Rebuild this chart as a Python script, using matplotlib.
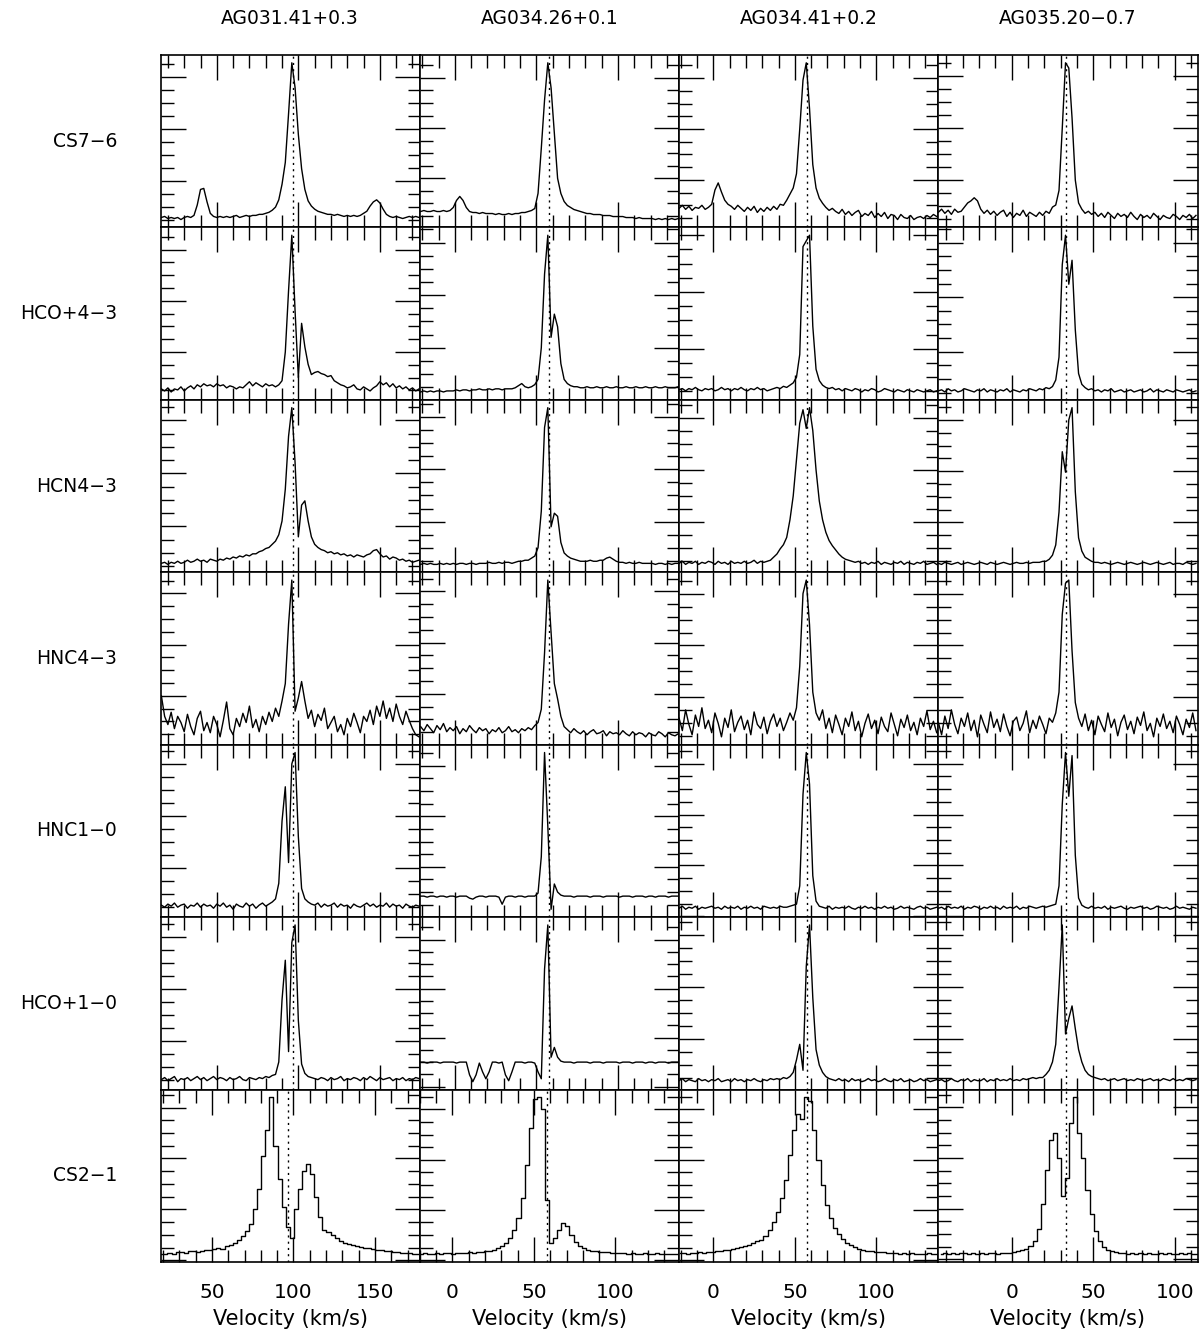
import numpy as np
import matplotlib.pyplot as plt
from matplotlib.ticker import MultipleLocator

# Spectra grid: 7 lines (rows) x 4 sources (columns)
sources = ['AG031.41+0.3', 'AG034.26+0.1', 'AG034.41+0.2', 'AG035.20\u22120.7']
lines = ['CS7\u22126', 'HCO+4\u22123', 'HCN4\u22123', 'HNC4\u22123',
         'HNC1\u22120', 'HCO+1\u22120', 'CS2\u22121']
v_lsr = [96.8, 58.0, 57.5, 33.5]          # dotted line, km/s

# channel grids (first channel velocity, channel width) in km/s
v_start = [16, -21, -21, -45]
dv = 2.0
v_start_cs21 = [19, -19.5, -20.5, -43.5]
dv_cs21 = 2.5

# intensities, arbitrary units
cs76_ag031 = [15, 16, 14, 15, 14, 15, 13, 15, 16, 15,
              17, 27, 42, 43, 30, 19, 16, 15, 16, 15,
              16, 15, 16, 17, 15, 16, 17, 16, 17, 17,
              18, 18, 19, 20, 22, 25, 32, 47, 68, 115,
              164, 140, 95, 62, 42, 31, 26, 23, 21, 20,
              19, 18, 18, 17, 18, 17, 16, 17, 16, 17,
              16, 17, 19, 21, 26, 30, 32, 29, 23, 18,
              16, 15, 16, 15, 14, 15, 16, 15, 16, 15]
cs76_ag034a = [17, 18, 17, 17, 18, 17, 17, 18, 17, 18,
               21, 28, 32, 28, 21, 17, 16, 16, 15, 16,
               15, 15, 15, 14, 15, 14, 14, 15, 14, 15,
               15, 16, 16, 17, 18, 20, 35, 80, 128, 165,
               140, 95, 50, 35, 27, 23, 21, 19, 18, 17,
               16, 15, 15, 14, 14, 14, 13, 13, 13, 12,
               12, 12, 12, 11, 11, 11, 10, 11, 10, 10,
               10, 10, 9, 10, 9, 10, 9, 10, 9, 10]
cs76_ag034b = [22, 25, 21, 24, 20, 23, 22, 25, 21, 23,
               26, 40, 47, 38, 30, 26, 24, 21, 25, 22,
               19, 23, 20, 24, 18, 22, 19, 23, 20, 24,
               21, 26, 25, 30, 36, 42, 56, 100, 148, 165,
               120, 65, 42, 32, 27, 23, 20, 22, 19, 17,
               21, 16, 19, 15, 18, 20, 14, 17, 15, 19,
               13, 17, 14, 18, 12, 16, 15, 11, 16, 13,
               12, 15, 11, 13, 14, 12, 15, 13, 16, 14]
cs76_ag035 = [19, 22, 18, 21, 17, 22, 19, 20, 24, 28,
              30, 33, 30, 22, 18, 21, 17, 20, 16, 19,
              21, 15, 19, 14, 18, 16, 21, 15, 19, 17,
              15, 19, 16, 20, 18, 24, 26, 40, 100, 163,
              158, 110, 50, 28, 22, 18, 20, 17, 19, 15,
              18, 14, 19, 16, 13, 18, 15, 17, 14, 19,
              15, 12, 17, 14, 16, 13, 18, 15, 12, 16,
              14, 13, 17, 15, 12, 16, 14, 17, 13, 16]

hco43_ag031 = [14, 12, 15, 11, 14, 13, 16, 12, 15, 17,
               14, 18, 16, 19, 17, 18, 16, 19, 17, 18,
               15, 17, 16, 14, 16, 15, 18, 21, 17, 20,
               18, 16, 19, 17, 18, 16, 18, 22, 50, 110,
               164, 90, 25, 78, 55, 38, 28, 30, 31, 29,
               28, 26, 27, 22, 20, 18, 17, 15, 16, 18,
               14, 13, 16, 14, 12, 15, 17, 21, 18, 20,
               16, 19, 15, 17, 14, 16, 13, 15, 12, 14]
hco43_ag034a = [8, 9, 8, 9, 8, 9, 9, 8, 9, 9,
                9, 10, 9, 10, 10, 9, 10, 10, 11, 10,
                10, 11, 10, 11, 11, 10, 11, 11, 11, 12,
                14, 16, 13, 12, 13, 15, 20, 50, 120, 157,
                60, 82, 70, 35, 20, 16, 14, 13, 13, 12,
                12, 13, 12, 12, 13, 12, 12, 13, 12, 12,
                13, 12, 12, 13, 12, 12, 13, 12, 12, 13,
                12, 12, 13, 12, 12, 13, 12, 12, 12, 13]
hco43_ag034b = [14, 15, 13, 15, 14, 16, 14, 13, 15, 14,
                15, 13, 14, 16, 14, 15, 13, 15, 14, 16,
                14, 13, 15, 14, 16, 14, 15, 13, 14, 15,
                16, 15, 17, 16, 18, 20, 25, 45, 140, 145,
                150, 70, 32, 22, 18, 16, 15, 16, 14, 15,
                13, 15, 14, 13, 15, 14, 12, 14, 13, 15,
                14, 12, 13, 15, 14, 13, 12, 14, 13, 12,
                14, 13, 12, 14, 13, 12, 13, 14, 12, 13]
hco43_ag035 = [14, 15, 13, 16, 14, 15, 13, 14, 16, 15,
               14, 13, 15, 14, 16, 13, 15, 14, 13, 15,
               14, 16, 13, 15, 14, 13, 15, 14, 16, 15,
               14, 16, 15, 17, 16, 18, 24, 45, 130, 157,
               112, 134, 70, 30, 20, 17, 15, 16, 14, 15,
               13, 15, 14, 16, 13, 14, 15, 13, 14, 15,
               13, 14, 15, 13, 14, 16, 13, 15, 14, 13,
               15, 14, 13, 15, 14, 13, 14, 15, 13, 14]

hcn43_ag031 = [15, 16, 14, 16, 15, 17, 15, 16, 18, 16,
               17, 19, 17, 18, 16, 19, 18, 17, 19, 18,
               20, 19, 21, 20, 22, 21, 23, 22, 24, 24,
               26, 27, 29, 30, 33, 36, 42, 55, 85, 135,
               162, 110, 40, 70, 74, 55, 40, 33, 30, 28,
               27, 25, 26, 24, 25, 23, 24, 22, 23, 21,
               23, 22, 21, 23, 24, 27, 28, 24, 21, 22,
               19, 21, 20, 18, 19, 17, 18, 16, 17, 18]
hcn43_ag034a = [9, 10, 9, 10, 9, 9, 10, 9, 10, 9,
                10, 9, 10, 10, 9, 10, 10, 9, 10, 10,
                10, 11, 10, 10, 11, 10, 11, 11, 10, 11,
                12, 12, 13, 13, 15, 17, 25, 60, 140, 159,
                45, 58, 55, 30, 20, 17, 15, 14, 13, 12,
                12, 12, 13, 12, 12, 13, 13, 15, 16, 14,
                12, 11, 11, 10, 11, 10, 10, 11, 10, 10,
                10, 10, 9, 10, 10, 9, 10, 9, 10, 10]
hcn43_ag034b = [10, 12, 9, 11, 10, 12, 9, 11, 10, 12,
                11, 9, 12, 10, 11, 9, 12, 10, 11, 10,
                12, 10, 11, 13, 10, 12, 11, 12, 13, 16,
                19, 24, 28, 35, 52, 75, 110, 145, 158, 140,
                160, 138, 100, 70, 52, 40, 32, 27, 23, 19,
                16, 14, 13, 12, 11, 12, 10, 11, 9, 11,
                10, 12, 9, 11, 10, 9, 11, 10, 12, 9,
                11, 10, 9, 11, 10, 12, 9, 10, 11, 9]
hcn43_ag035 = [10, 9, 11, 10, 9, 10, 11, 9, 10, 11,
               10, 9, 10, 11, 10, 9, 11, 10, 9, 10,
               11, 10, 9, 10, 11, 10, 10, 11, 10, 11,
               11, 11, 12, 12, 14, 18, 28, 60, 119, 99,
               150, 162, 80, 35, 22, 16, 14, 12, 11, 11,
               10, 11, 10, 9, 10, 11, 10, 9, 10, 11,
               10, 9, 10, 11, 10, 9, 10, 11, 10, 9,
               10, 11, 9, 10, 10, 9, 11, 10, 9, 10]

hnc43_ag031 = [50, 30, 22, 34, 18, 30, 24, 15, 32, 20,
               12, 28, 35, 16, 24, 14, 30, 22, 10, 26,
               44, 18, 12, 28, 20, 33, 24, 40, 19, 27,
               15, 30, 22, 34, 25, 38, 30, 45, 62, 120,
               163, 35, 48, 64, 45, 28, 36, 20, 32, 26,
               38, 18, 24, 30, 15, 22, 12, 28, 20, 33,
               24, 14, 30, 25, 36, 22, 40, 30, 45, 28,
               38, 25, 42, 30, 22, 35, 26, 18, 12, 10]
hnc43_ag034a = [18, 14, 20, 16, 12, 19, 15, 21, 13, 17,
                14, 18, 11, 16, 13, 19, 15, 12, 17, 14,
                16, 11, 15, 13, 17, 12, 14, 18, 13, 15,
                12, 16, 14, 17, 15, 19, 22, 35, 90, 161,
                110, 60, 45, 28, 18, 15, 12, 16, 13, 11,
                14, 10, 13, 15, 11, 12, 14, 9, 13, 11,
                12, 10, 14, 11, 9, 13, 10, 12, 11, 8,
                12, 10, 9, 13, 11, 8, 12, 10, 9, 11]
hnc43_ag034b = [30, 18, 38, 24, 14, 33, 22, 40, 20, 28,
                16, 35, 25, 12, 30, 21, 38, 17, 26, 32,
                19, 28, 14, 36, 24, 20, 31, 15, 27, 34,
                22, 30, 18, 26, 35, 28, 40, 80, 150, 163,
                120, 55, 35, 28, 38, 20, 30, 16, 33, 24,
                14, 30, 22, 36, 18, 27, 12, 25, 34, 20,
                28, 15, 31, 22, 17, 35, 24, 13, 29, 21,
                33, 18, 26, 14, 30, 22, 37, 19, 27, 16]
hnc43_ag035 = [26, 14, 32, 20, 38, 24, 15, 30, 22, 35,
               18, 28, 12, 33, 24, 16, 36, 21, 29, 17,
               34, 22, 13, 27, 31, 18, 25, 37, 16, 28,
               20, 32, 24, 15, 30, 26, 35, 55, 130, 160,
               163, 95, 45, 30, 22, 34, 18, 28, 14, 32,
               24, 17, 35, 21, 29, 13, 26, 33, 19, 27,
               15, 31, 23, 36, 18, 25, 12, 30, 22, 34,
               20, 27, 16, 32, 24, 14, 29, 21, 35, 18]

hnc10_ag031 = [14, 12, 15, 13, 16, 12, 14, 15, 11, 14,
               13, 16, 12, 15, 13, 14, 11, 15, 13, 16,
               12, 14, 10, 15, 13, 12, 16, 13, 15, 11,
               14, 16, 13, 15, 17, 20, 35, 95, 128, 55,
               150, 161, 80, 30, 20, 17, 15, 14, 16, 12,
               15, 13, 14, 16, 12, 15, 13, 14, 11, 15,
               13, 12, 14, 16, 13, 15, 12, 14, 13, 16,
               12, 15, 13, 14, 11, 15, 13, 12, 14, 13]
hnc10_ag034a = [21, 21, 20, 21, 21, 20, 21, 21, 20, 21,
                21, 20, 21, 21, 21, 19, 18, 20, 21, 21,
                20, 21, 21, 21, 20, 13, 20, 21, 21, 20,
                21, 21, 20, 21, 21, 21, 24, 60, 163, 90,
                8, 33, 25, 22, 21, 21, 21, 20, 21, 21,
                21, 21, 20, 21, 21, 21, 20, 21, 21, 21,
                21, 20, 21, 21, 21, 20, 21, 21, 21, 20,
                21, 21, 20, 21, 21, 21, 20, 21, 21, 21]
hnc10_ag034b = [8, 10, 7, 9, 8, 10, 7, 9, 8, 9,
                10, 8, 9, 7, 10, 8, 9, 8, 10, 7,
                9, 8, 10, 8, 9, 7, 10, 9, 8, 9,
                8, 10, 9, 9, 10, 11, 12, 30, 120, 161,
                130, 40, 15, 10, 9, 8, 10, 7, 9, 8,
                9, 8, 10, 8, 7, 9, 8, 10, 8, 9,
                7, 9, 8, 10, 8, 9, 7, 8, 10, 8,
                9, 8, 7, 9, 10, 8, 9, 7, 8, 9]
hnc10_ag035 = [8, 9, 7, 10, 8, 9, 8, 10, 7, 9,
               8, 10, 9, 7, 9, 8, 10, 8, 9, 7,
               10, 8, 9, 8, 10, 7, 9, 8, 10, 9,
               8, 9, 10, 9, 10, 11, 12, 30, 110, 161,
               118, 158, 60, 18, 11, 9, 8, 10, 8, 9,
               8, 10, 7, 9, 8, 9, 10, 8, 7, 9,
               8, 9, 10, 8, 9, 7, 8, 10, 9, 8,
               9, 7, 8, 10, 8, 9, 8, 7, 9, 8]

hco10_ag031 = [13, 15, 12, 14, 16, 11, 14, 13, 15, 12,
               14, 16, 13, 15, 12, 14, 16, 13, 15, 14,
               12, 15, 13, 14, 16, 13, 12, 15, 14, 13,
               15, 14, 16, 15, 17, 18, 30, 90, 128, 40,
               145, 162, 70, 28, 19, 16, 15, 14, 13, 15,
               14, 12, 15, 13, 14, 16, 12, 14, 13, 15,
               14, 12, 15, 13, 16, 14, 12, 15, 13, 14,
               15, 12, 14, 13, 15, 12, 14, 13, 15, 14]
hco10_ag034a = [25, 25, 24, 25, 25, 25, 24, 25, 25, 25,
                25, 24, 25, 25, 25, 12, 5, 12, 24, 15,
                8, 15, 25, 25, 24, 25, 12, 6, 15, 25,
                25, 25, 24, 25, 25, 24, 15, 8, 120, 165,
                30, 40, 30, 26, 25, 25, 25, 24, 25, 25,
                25, 25, 24, 25, 25, 25, 24, 25, 25, 25,
                25, 24, 25, 25, 25, 24, 25, 25, 25, 24,
                25, 25, 24, 25, 25, 25, 24, 25, 25, 25]
hco10_ag034b = [10, 12, 9, 11, 10, 9, 12, 10, 11, 9,
                11, 10, 12, 9, 10, 11, 9, 12, 10, 11,
                9, 11, 10, 12, 10, 9, 11, 10, 12, 11,
                12, 11, 13, 12, 14, 18, 30, 45, 20, 120,
                160, 90, 40, 25, 18, 14, 12, 11, 10, 12,
                10, 11, 9, 12, 10, 11, 9, 10, 12, 10,
                11, 9, 10, 12, 10, 9, 11, 10, 12, 9,
                10, 11, 9, 10, 12, 10, 11, 9, 10, 11]
hco10_ag035 = [10, 11, 9, 10, 12, 10, 9, 11, 10, 12,
               9, 11, 10, 10, 12, 9, 11, 10, 12, 10,
               11, 10, 12, 10, 11, 10, 12, 11, 12, 13,
               12, 13, 13, 16, 20, 28, 45, 100, 160, 55,
               70, 82, 60, 40, 28, 20, 16, 14, 13, 12,
               11, 12, 10, 11, 12, 10, 11, 12, 10, 11,
               10, 12, 11, 10, 11, 12, 10, 11, 10, 12,
               11, 10, 12, 10, 11, 10, 12, 11, 10, 11]

cs21_ag031 = [6, 6, 7, 6, 8, 8, 7, 9, 9, 8,
              9, 10, 10, 11, 12, 11, 14, 15, 17, 20,
              24, 29, 36, 50, 70, 102, 128, 160, 112, 80,
              52, 33, 22, 50, 70, 88, 95, 85, 62, 42,
              30, 28, 25, 22, 19, 17, 16, 15, 14, 13,
              12, 12, 11, 10, 10, 9, 9, 8, 8, 7,
              7, 7, 6, 6]
cs21_ag034a = [6, 7, 6, 6, 7, 6, 7, 7, 6, 7,
               7, 7, 8, 7, 8, 8, 9, 9, 10, 12,
               14, 17, 22, 30, 42, 62, 95, 132, 160, 162,
               150, 60, 17, 22, 30, 37, 34, 25, 18, 14,
               12, 10, 9, 9, 8, 8, 8, 7, 7, 7,
               7, 6, 7, 6, 6, 7, 6, 6, 7, 6,
               6, 6, 6, 6]
cs21_ag034b = [7, 7, 6, 7, 7, 8, 7, 8, 8, 9,
               9, 10, 10, 11, 12, 13, 14, 15, 17, 19,
               20, 24, 30, 38, 48, 62, 80, 105, 130, 145,
               140, 162, 158, 130, 100, 75, 55, 42, 32, 26,
               21, 17, 15, 13, 11, 10, 9, 9, 8, 8,
               8, 7, 7, 7, 6, 7, 6, 7, 6, 6,
               6, 7, 6, 6]
cs21_ag035 = [5, 6, 5, 6, 5, 6, 6, 5, 6, 5,
              6, 5, 6, 6, 5, 6, 6, 6, 7, 8,
              9, 10, 13, 18, 30, 55, 88, 118, 125, 100,
              62, 80, 135, 160, 125, 100, 68, 45, 28, 18,
              12, 9, 8, 7, 6, 6, 5, 6, 5, 6,
              5, 6, 5, 5, 6, 5, 6, 5, 5, 6,
              5, 6, 5, 5]

spectra = [
    [cs76_ag031, cs76_ag034a, cs76_ag034b, cs76_ag035],
    [hco43_ag031, hco43_ag034a, hco43_ag034b, hco43_ag035],
    [hcn43_ag031, hcn43_ag034a, hcn43_ag034b, hcn43_ag035],
    [hnc43_ag031, hnc43_ag034a, hnc43_ag034b, hnc43_ag035],
    [hnc10_ag031, hnc10_ag034a, hnc10_ag034b, hnc10_ag035],
    [hco10_ag031, hco10_ag034a, hco10_ag034b, hco10_ag035],
    [cs21_ag031, cs21_ag034a, cs21_ag034b, cs21_ag035],
]

# velocity windows (left edge) and common width
x_left = [15.5, -21.5, -21, -45]
x_left_cs21 = [18.5, -20, -21, -45]
x_width = 159

fig, axes = plt.subplots(7, 4, figsize=(12, 13.34), dpi=100)
fig.subplots_adjust(left=0.1338, right=0.998, top=0.9588, bottom=0.054,
                    hspace=0, wspace=0)

for r in range(7):
    for c in range(4):
        ax = axes[r, c]
        t = np.array(spectra[r][c])
        if r == 6:
            # CS 2-1 has coarse channels -> histogram
            v = v_start_cs21[c] + dv_cs21 * np.arange(len(t))
            lo = x_left_cs21[c]
            ax.plot(v, t, drawstyle='steps-mid', color='k', lw=1.0)
        else:
            v = v_start[c] + dv * np.arange(len(t))
            lo = x_left[c]
            ax.plot(v, t, color='k', lw=1.0)
        ax.axvline(v_lsr[c], color='k', lw=1.0, ls=(0, (1.5, 3)))
        ax.set_xlim(lo, lo + x_width)
        ax.margins(y=0.05)

        ax.xaxis.set_major_locator(MultipleLocator(50))
        ax.xaxis.set_minor_locator(MultipleLocator(10))
        ax.yaxis.set_major_locator(MultipleLocator(50))
        ax.yaxis.set_minor_locator(MultipleLocator(12.5))
        ax.tick_params(which='both', direction='in', top=True, right=True,
                       labelleft=False, width=1.0, labelsize=14.5, pad=15.5)
        ax.tick_params(which='major', length=18)
        ax.tick_params(which='minor', length=9)
        for s in ax.spines.values():
            s.set_linewidth(1.2)
        if r == 6:
            ax.set_xlabel('Velocity (km/s)', fontsize=15, labelpad=5)
        else:
            ax.tick_params(labelbottom=False)

# column titles and row labels
for c, src in enumerate(sources):
    pos = axes[0, c].get_position()
    fig.text((pos.x0 + pos.x1) / 2, 1 - 18 / 1334, src,
             ha='center', va='center', fontsize=13.5)
for r, name in enumerate(lines):
    pos = axes[r, 0].get_position()
    fig.text(117 / 1200, (pos.y0 + pos.y1) / 2, name,
             ha='right', va='center', fontsize=13.5)

plt.savefig('out.png', dpi=100)
